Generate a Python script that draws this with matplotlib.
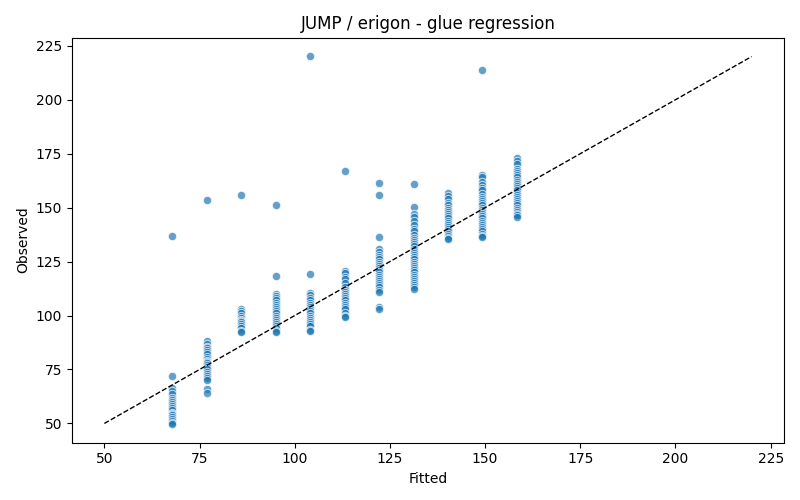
import matplotlib
matplotlib.use("Agg")
import matplotlib.pyplot as plt
import numpy as np

fitted_levels = [67.8, 76.9, 85.9, 95.0, 104.0, 113.1, 122.2, 131.2, 140.3, 149.3, 158.4]

observed_groups = [
    [137.0, 72.2, 66.5, 65.0, 63.5, 62.0, 61.0, 60.0, 59.0, 58.0, 57.0, 56.0, 55.0, 54.5, 54.0, 53.0, 52.0, 51.0, 50.0, 49.7],
    [153.7, 88.1, 87.0, 85.5, 85.0, 84.0, 83.0, 82.0, 81.0, 80.0, 79.0, 78.5, 78.0, 77.0, 76.0, 75.0, 74.0, 73.0, 72.0, 71.0, 70.0, 66.0, 64.2],
    [156.0, 103.0, 102.0, 101.0, 100.0, 99.0, 98.0, 97.5, 97.0, 96.0, 95.0, 94.0, 93.0, 92.3],
    [151.4, 118.1, 110.0, 109.0, 108.0, 107.0, 106.0, 105.0, 104.0, 103.0, 102.0, 101.0, 100.0, 99.0, 98.0, 97.0, 96.0, 95.0, 94.0, 93.0, 92.3],
    [220.3, 119.3, 110.3, 109.5, 108.0, 107.0, 106.0, 105.0, 104.0, 103.0, 102.0, 101.0, 100.0, 99.0, 98.0, 97.0, 96.0, 95.0, 93.5, 92.7],
    [167.1, 120.8, 119.5, 118.0, 117.0, 115.0, 113.0, 112.0, 111.0, 110.0, 109.0, 108.0, 107.0, 106.0, 105.0, 104.0, 103.0, 101.0, 100.0, 99.2],
    [161.4, 156.0, 136.6, 130.8, 129.5, 128.0, 127.0, 126.0, 125.0, 124.0, 123.0, 122.0, 121.0, 120.0, 119.0, 118.0, 117.0, 116.0, 115.0, 114.0, 113.0, 112.0, 111.0, 104.0, 103.1],
    [161.0, 150.5, 147.0, 145.5, 144.0, 142.0, 140.0, 139.0, 137.5, 136.0, 135.0, 134.0, 133.0, 132.0, 131.0, 130.0, 129.0, 128.0, 127.0, 126.0, 125.0, 124.0, 123.0, 122.0, 121.0, 120.0, 119.0, 118.0, 117.0, 116.0, 115.0, 114.0, 113.0, 112.3],
    [156.6, 155.5, 154.0, 152.0, 151.0, 150.0, 149.0, 148.0, 147.0, 146.0, 145.0, 144.0, 143.0, 142.0, 141.0, 140.0, 139.0, 138.0, 137.0, 136.0, 135.5],
    [213.9, 165.3, 164.0, 162.0, 160.5, 159.0, 158.0, 156.5, 155.0, 154.0, 153.0, 152.0, 151.0, 150.0, 149.0, 148.0, 147.0, 146.0, 145.0, 144.0, 143.0, 142.0, 141.0, 140.0, 139.0, 138.0, 137.0, 136.3],
    [173.0, 171.5, 170.0, 168.0, 167.0, 166.0, 165.0, 164.0, 163.0, 162.0, 161.0, 160.0, 159.0, 158.0, 157.0, 156.0, 155.0, 154.0, 153.0, 152.0, 151.0, 150.0, 149.0, 148.0, 147.0, 146.5, 145.8],
]

line_range = [50, 220]

fitted = []
observed = []
for f, obs in zip(fitted_levels, observed_groups):
    fitted.extend([f] * len(obs))
    observed.extend(obs)

fig, ax = plt.subplots(figsize=(8, 5), dpi=100)
ax.scatter(fitted, observed, s=36, color="#1f77b4", alpha=0.7,
           edgecolors="white", linewidths=0.75, zorder=2)
ax.plot(line_range, line_range, color="black", linestyle="--", linewidth=1, zorder=3)
ax.set_title("JUMP / erigon - glue regression")
ax.set_xlabel("Fitted")
ax.set_ylabel("Observed")
fig.subplots_adjust(left=0.09, right=0.98, top=0.925, bottom=0.115)
fig.savefig("out.png")
